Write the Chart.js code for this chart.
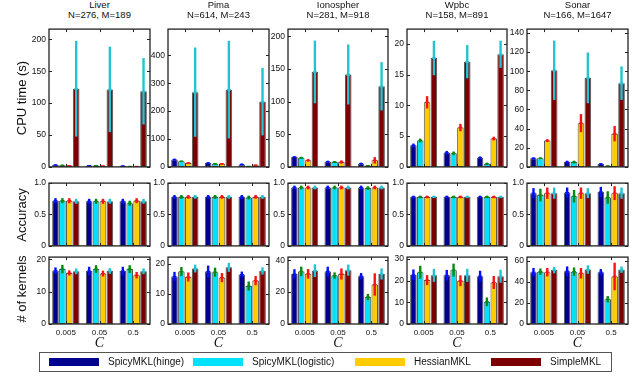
<!DOCTYPE html>
<html>
<head>
<meta charset="utf-8">
<script src="https://cdn.jsdelivr.net/npm/chart.js@4.4.1/dist/chart.umd.min.js"></script>
<style>
  body { margin: 0; background: #fff; font-family: "Liberation Sans", Arial, sans-serif; color: #111; }
  #fig { position: relative; width: 640px; height: 390px; overflow: hidden; background: #fff; }
  #fig canvas { position: absolute; }
  .title { position: absolute; top: 0; text-align: center; font-size: 9.5px; line-height: 10px; }
  .ylab { position: absolute; font-size: 13px; white-space: nowrap; transform: translate(-50%, -50%) rotate(-90deg); }
  .clab { position: absolute; top: 343px; font: italic 14px "Liberation Serif", serif; transform: translate(-50%, -50%); }
  #legend { position: absolute; left: 39px; top: 352px; width: 571px; height: 18px; border: 1px solid #555; }
  .sw { position: absolute; top: 5px; width: 50px; height: 8px; }
  .lt { position: absolute; top: 3px; font-size: 10px; line-height: 12px; white-space: nowrap; }
</style>
</head>
<body>
<div id="fig"></div>
<script>
const cValues = ['0.005', '0.05', '0.5'];
const methods = ['SpicyMKL(hinge)', 'SpicyMKL(logistic)', 'HessianMKL', 'SimpleMKL'];
const dataNames = ['Liver', 'Pima', 'Ionospher', 'Wpbc', 'Sonar'];
const dataSizes = ['N=276, M=189', 'N=614, M=243', 'N=281, M=918', 'N=158, M=891', 'N=166, M=1647'];
const rowLabels = ['CPU time (s)', 'Accuracy', '# of kernels'];

// values are [dataset][method][C]
const cpuMean = [
  [[3, 2, 1.5], [2.5, 2, 0.8], [2, 1.5, 0.8], [122.5, 121.5, 118.5]],
  [[26, 14, 9], [20, 11, 2], [14, 11, 6], [268, 277, 234]],
  [[15, 8, 5], [14, 7.5, 2], [10, 7.5, 10], [145.5, 141.5, 123.5]],
  [[3.5, 2.3, 1.5], [4.3, 2.2, 0.5], [10.5, 6.4, 4.6], [17.7, 17.1, 18.3]],
  [[9, 5, 3], [9, 5, 1], [27.5, 45.7, 34.7], [101, 93, 87.5]]
];
const cpuStd = [
  [[1, 1, 0.8], [1, 0.8, 0.5], [0.8, 0.8, 0.6], [75, 67, 52]],
  [[4, 3, 3], [3, 3, 1], [3, 3, 3], [160, 175, 121]],
  [[1.5, 1.5, 1.5], [1.5, 1.5, 1], [2, 2.5, 5], [48, 46, 37]],
  [[0.3, 0.3, 0.2], [0.3, 0.3, 0.2], [1, 0.6, 0.3], [2.8, 2.7, 2.2]],
  [[1, 1.5, 1], [1, 1.5, 0.5], [1.5, 9.5, 8], [31, 26.5, 17.5]]
];
const accMean = [
  [[0.72, 0.71, 0.71], [0.72, 0.71, 0.68], [0.72, 0.71, 0.72], [0.71, 0.71, 0.71]],
  [[0.78, 0.78, 0.78], [0.78, 0.78, 0.77], [0.78, 0.78, 0.78], [0.78, 0.78, 0.78]],
  [[0.93, 0.93, 0.93], [0.93, 0.93, 0.92], [0.93, 0.93, 0.93], [0.93, 0.93, 0.93]],
  [[0.78, 0.78, 0.78], [0.78, 0.78, 0.78], [0.78, 0.78, 0.78], [0.78, 0.78, 0.78]],
  [[0.84, 0.85, 0.86], [0.81, 0.79, 0.77], [0.84, 0.84, 0.84], [0.84, 0.84, 0.84]]
];
const accStd = [
  [[0.04, 0.04, 0.04], [0.04, 0.04, 0.04], [0.04, 0.04, 0.04], [0.04, 0.04, 0.04]],
  [[0.03, 0.03, 0.03], [0.03, 0.03, 0.03], [0.03, 0.03, 0.03], [0.03, 0.03, 0.03]],
  [[0.03, 0.03, 0.03], [0.03, 0.03, 0.03], [0.03, 0.03, 0.03], [0.03, 0.03, 0.03]],
  [[0.02, 0.02, 0.02], [0.02, 0.02, 0.02], [0.02, 0.02, 0.02], [0.02, 0.02, 0.02]],
  [[0.08, 0.08, 0.08], [0.1, 0.1, 0.1], [0.09, 0.09, 0.11], [0.09, 0.08, 0.09]]
];
const kerMean = [
  [[16.5, 16.4, 16.4], [17, 17, 17], [15.8, 15.6, 15.1], [16.3, 16.4, 16.3]],
  [[15.8, 17.4, 16.4], [17.4, 17.2, 12.6], [15.6, 15.4, 14.4], [18.4, 18.8, 17.6]],
  [[31.4, 33, 30], [33, 30.4, 16.9], [31.5, 31.4, 24.8], [33.5, 33.8, 31.4]],
  [[22.6, 22.4, 22], [23.8, 24.8, 10.2], [20.2, 19.9, 19.1], [22.4, 22.4, 22]],
  [[49, 50, 49], [49.5, 49.5, 23.4], [49, 48, 45], [51, 51.5, 51.4]]
];
const kerStd = [
  [[1, 1.3, 1.3], [1.3, 1.2, 1.2], [0.8, 0.9, 1], [0.9, 0.9, 0.9]],
  [[1.5, 2, 1], [1.5, 1.5, 1.5], [1.5, 1.5, 1.5], [1.3, 1.5, 1.2]],
  [[3, 3, 2], [3, 2, 2], [3, 3.5, 7], [4, 3.5, 3.5]],
  [[2.5, 2.5, 2.5], [3, 3, 2], [2.3, 2.5, 3], [3, 3, 3]],
  [[4, 4.5, 3], [3, 4, 3], [4, 5, 13], [3, 4, 3]]
];

// axis limits and tick values per row and dataset
const cpuMax = [216, 494, 211, 22.4, 144];
const cpuTicks = [[0, 50, 100, 150, 200], [0, 100, 200, 300, 400], [0, 50, 100, 150, 200], [0, 5, 10, 15, 20], [0, 20, 40, 60, 80, 100, 120, 140]];
const accMax = [1, 1, 1, 1, 1];
const accTicks = [[0, 0.5, 1], [0, 0.5, 1], [0, 0.5, 1], [0, 0.5, 1], [0, 0.5, 1]];
const kerMax = [20.7, 22.2, 42, 30.8, 63.3];
const kerTicks = [[0, 10, 20], [0, 10, 20], [0, 20, 40], [0, 10, 20, 30], [0, 20, 40, 60]];

const barColors = ['#00008e', '#00e1fb', '#ffcc00', '#7d0000'];
const errColors = ['#0010ff', '#008a10', '#ff1010', '#22c4d2'];

// layout
const colLeft = [49, 168, 288, 407, 527];
const colW = [101, 101, 100, 100, 101];
const rowTop = [26, 180, 254];
const rowH = [144, 69, 70];
const padL = 30, padT = 5, padR = 5, xLabH = 14;

const rows = [
  {mean: cpuMean, std: cpuStd, max: cpuMax, ticks: cpuTicks},
  {mean: accMean, std: accStd, max: accMax, ticks: accTicks},
  {mean: kerMean, std: kerStd, max: kerMax, ticks: kerTicks}
];

const boxAndErrors = {
  id: 'boxAndErrors',
  afterDatasetsDraw(chart) {
    const {ctx, chartArea: a, scales: {x, y}} = chart;
    ctx.save();
    chart.data.datasets.forEach((ds, i) => {
      chart.getDatasetMeta(i).data.forEach((bar, j) => {
        const m = ds.data[j], s = ds.std[j];
        const yt = y.getPixelForValue(m + s);
        const yb = y.getPixelForValue(Math.max(0, m - s));
        ctx.strokeStyle = ds.errColor;
        ctx.lineWidth = 2.4;
        ctx.beginPath();
        ctx.moveTo(bar.x, yt);
        ctx.lineTo(bar.x, yb);
        ctx.stroke();
        ctx.lineWidth = 1.2;
        ctx.beginPath();
        ctx.moveTo(bar.x - 2, bar.y);
        ctx.lineTo(bar.x + 2, bar.y);
        ctx.stroke();
      });
    });
    ctx.strokeStyle = '#222';
    ctx.lineWidth = 1.3;
    ctx.strokeRect(a.left, a.top, a.right - a.left, a.bottom - a.top);
    ctx.lineWidth = 1;
    y.ticks.forEach((t, k) => {
      const py = Math.round(y.getPixelForTick(k)) + 0.5;
      ctx.beginPath();
      ctx.moveTo(a.left, py); ctx.lineTo(a.left + 3, py);
      ctx.moveTo(a.right, py); ctx.lineTo(a.right - 3, py);
      ctx.stroke();
    });
    x.ticks.forEach((t, k) => {
      const px = Math.round(x.getPixelForTick(k)) + 0.5;
      ctx.beginPath();
      ctx.moveTo(px, a.top); ctx.lineTo(px, a.top + 3);
      ctx.moveTo(px, a.bottom); ctx.lineTo(px, a.bottom - 3);
      ctx.stroke();
    });
    ctx.restore();
  }
};

const fig = document.getElementById('fig');

rows.forEach((row, r) => {
  dataNames.forEach((name, d) => {
    const last = r === 2;
    const cv = document.createElement('canvas');
    const w = colW[d] + padL + padR;
    const h = rowH[r] + padT + (last ? xLabH : padT);
    cv.width = w; cv.height = h;
    cv.style.left = (colLeft[d] - padL) + 'px';
    cv.style.top = (rowTop[r] - padT) + 'px';
    cv.style.width = w + 'px'; cv.style.height = h + 'px';
    fig.appendChild(cv);

    new Chart(cv, {
      type: 'bar',
      data: {
        labels: cValues,
        datasets: methods.map((mName, k) => ({
          label: mName,
          data: row.mean[d][k],
          std: row.std[d][k],
          errColor: errColors[k],
          backgroundColor: barColors[k],
          borderColor: '#555',
          borderWidth: 1,
          borderSkipped: false,
          categoryPercentage: 0.82,
          barPercentage: 0.96
        }))
      },
      options: {
        responsive: false,
        animation: false,
        devicePixelRatio: 1,
        layout: { padding: { left: 0, top: padT, right: padR, bottom: last ? 0 : padT } },
        plugins: { legend: { display: false }, tooltip: { enabled: false }, title: { display: false } },
        scales: {
          x: {
            grid: { display: false, drawTicks: false },
            border: { display: false },
            ticks: { display: last, color: '#111', padding: 4, maxRotation: 0,
                     font: { family: 'Liberation Sans, Arial, sans-serif', size: 8 } },
            afterFit: s => { s.height = last ? xLabH : 0; }
          },
          y: {
            min: 0,
            max: row.max[d],
            grid: { display: false, drawTicks: false },
            border: { display: false },
            ticks: { color: '#111', padding: 3,
                     font: { family: 'Liberation Sans, Arial, sans-serif', size: 8.5 } },
            afterBuildTicks: s => { s.ticks = row.ticks[d].map(v => ({ value: v })); },
            afterFit: s => { s.width = padL; }
          }
        }
      },
      plugins: [boxAndErrors]
    });
  });
});

// column titles and C labels
dataNames.forEach((name, d) => {
  const t = document.createElement('div');
  t.className = 'title';
  t.style.left = colLeft[d] + 'px';
  t.style.width = colW[d] + 'px';
  t.innerHTML = name + '<br>' + dataSizes[d];
  fig.appendChild(t);

  const c = document.createElement('div');
  c.className = 'clab';
  c.style.left = (colLeft[d] + colW[d] / 2) + 'px';
  c.textContent = 'C';
  fig.appendChild(c);
});

// row labels
rowLabels.forEach((lab, r) => {
  const el = document.createElement('div');
  el.className = 'ylab';
  el.style.left = '21px';
  el.style.top = (rowTop[r] + rowH[r] / 2) + 'px';
  el.textContent = lab;
  fig.appendChild(el);
});

// legend
const legend = document.createElement('div');
legend.id = 'legend';
fig.appendChild(legend);
const swLeft = [9, 153, 315, 451];
methods.forEach((mName, k) => {
  const sw = document.createElement('div');
  sw.className = 'sw';
  sw.style.left = swLeft[k] + 'px';
  sw.style.background = barColors[k];
  legend.appendChild(sw);
  const tx = document.createElement('div');
  tx.className = 'lt';
  tx.style.left = (swLeft[k] + 59) + 'px';
  tx.textContent = mName;
  legend.appendChild(tx);
});
</script>
</body>
</html>
